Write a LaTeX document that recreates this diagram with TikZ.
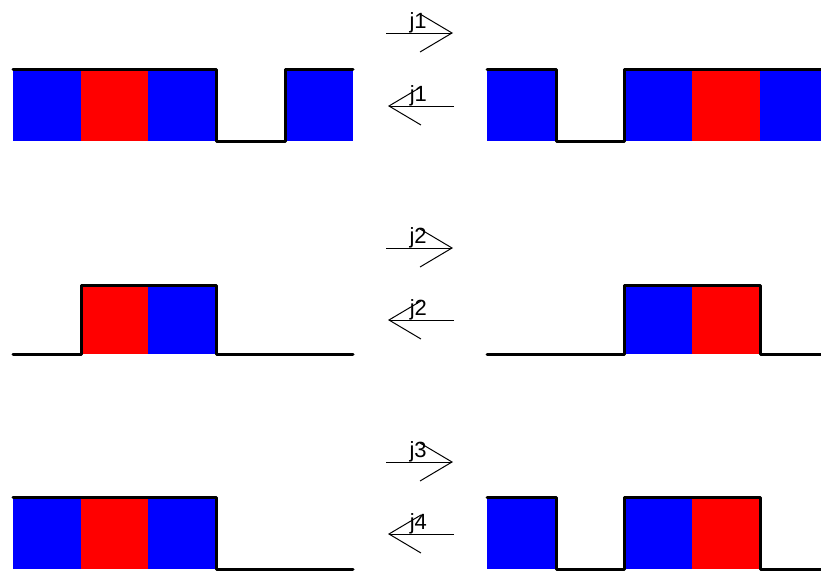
\documentclass[tikz,border=0pt]{standalone}
\usepackage{fontspec}
\setmainfont{Liberation Sans}
\usetikzlibrary{arrows.meta}
\definecolor{cblue}{RGB}{0,0,255}
\definecolor{cred}{RGB}{255,0,0}
\tikzset{
  bcell/.style={fill=cblue},
  rcell/.style={fill=cred},
  outline/.style={line width=3pt, line cap=round, line join=round},
  trans/.style={line width=1pt, -{Straight Barb[length=32pt,width=38pt,line width=1pt]}},
  lbl/.style={font=\fontsize{22}{22}\selectfont, anchor=base, inner sep=0pt}
}
\begin{document}
\begin{tikzpicture}[x=1pt,y=-1pt]
\useasboundingbox (0,0) rectangle (821,573);
% ---------- row 1 ----------
\fill[bcell] (13,69) rectangle (81,141);
\fill[rcell] (81,69) rectangle (148,141);
\fill[bcell] (148,69) rectangle (216,141);
\fill[bcell] (285,69) rectangle (353,141);
\draw[outline] (13,69) -- (216,69) -- (216,141) -- (285,141) -- (285,69) -- (353,69);
\fill[bcell] (487,69) rectangle (556,141);
\fill[bcell] (624,69) rectangle (692,141);
\fill[rcell] (692,69) rectangle (760,141);
\fill[bcell] (760,69) rectangle (822,141);
\draw[outline] (487,69) -- (556,69) -- (556,141) -- (624,141) -- (624,69) -- (823,69);
% ---------- row 2 ----------
\fill[rcell] (81,285) rectangle (148,354);
\fill[bcell] (148,285) rectangle (216,354);
\draw[outline] (13,354) -- (81,354) -- (81,285) -- (216,285) -- (216,354) -- (353,354);
\fill[bcell] (624,285) rectangle (692,354);
\fill[rcell] (692,285) rectangle (760,354);
\draw[outline] (487,354) -- (624,354) -- (624,285) -- (760,285) -- (760,354) -- (823,354);
% ---------- row 3 ----------
\fill[bcell] (13,497) rectangle (81,569);
\fill[rcell] (81,497) rectangle (148,569);
\fill[bcell] (148,497) rectangle (216,569);
\draw[outline] (13,497) -- (216,497) -- (216,569) -- (353,569);
\fill[bcell] (487,497) rectangle (556,569);
\fill[bcell] (624,497) rectangle (692,569);
\fill[rcell] (692,497) rectangle (760,569);
\draw[outline] (487,497) -- (556,497) -- (556,569) -- (624,569) -- (624,497) -- (760,497) -- (760,569) -- (823,569);
% ---------- transition arrows ----------
\coordinate (r1a) at (386,33);  \coordinate (r1b) at (453,33);
\coordinate (l1a) at (454,106); \coordinate (l1b) at (388,106);
\coordinate (r2a) at (386,248); \coordinate (r2b) at (453,248);
\coordinate (l2a) at (454,320); \coordinate (l2b) at (388,320);
\coordinate (r3a) at (386,462); \coordinate (r3b) at (453,462);
\coordinate (l3a) at (454,534); \coordinate (l3b) at (388,534);
\draw[trans] (r1a) -- node[lbl, pos=0.48, yshift=4.5pt] (t1) {j1} (r1b);
\draw[trans] (l1a) -- node[lbl, pos=0.54, yshift=5pt] (t2) {j1} (l1b);
\draw[trans] (r2a) -- node[lbl, pos=0.48, yshift=4.5pt] (t3) {j2} (r2b);
\draw[trans] (l2a) -- node[lbl, pos=0.54, yshift=5pt] (t4) {j2} (l2b);
\draw[trans] (r3a) -- node[lbl, pos=0.48, yshift=4.5pt] (t5) {j3} (r3b);
\draw[trans] (l3a) -- node[lbl, pos=0.54, yshift=5pt] (t6) {j4} (l3b);
\end{tikzpicture}
\end{document}
